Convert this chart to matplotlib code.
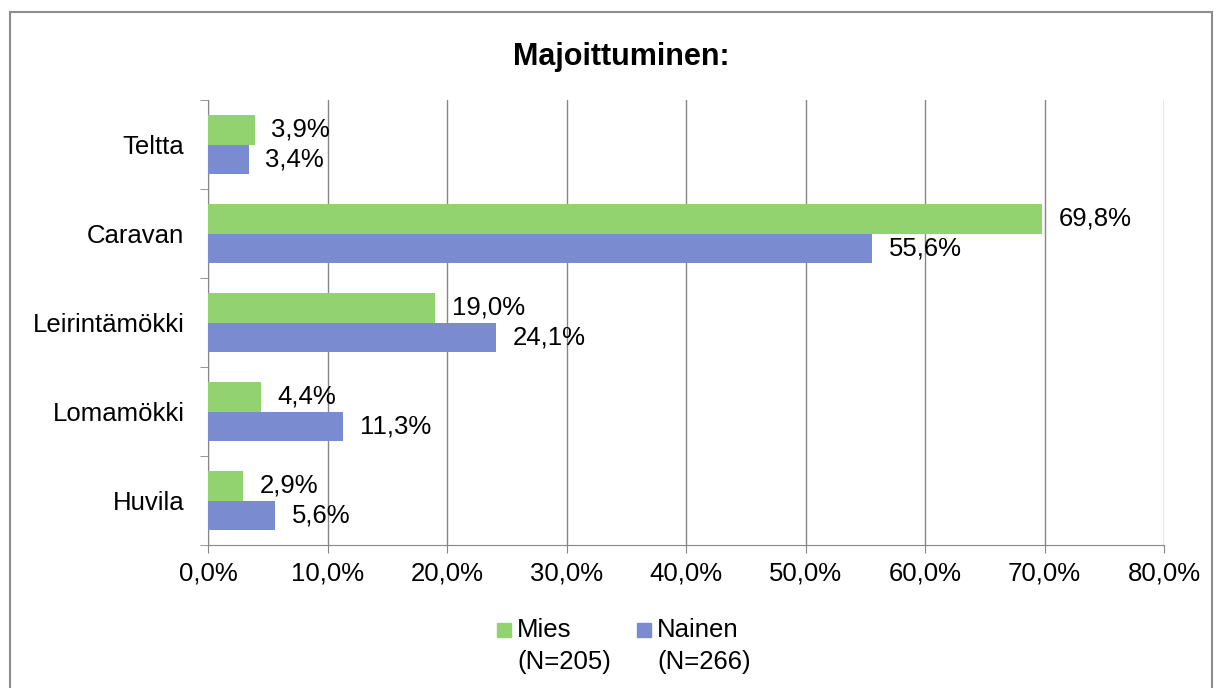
import numpy as np
import matplotlib.pyplot as plt
from matplotlib.patches import Rectangle

plt.rcParams['font.family'] = ['Liberation Sans', 'DejaVu Sans']

categories = ['Teltta', 'Caravan', 'Leirintämökki', 'Lomamökki', 'Huvila']
mies = [3.9, 69.8, 19.0, 4.4, 2.9]
nainen = [3.4, 55.6, 24.1, 11.3, 5.6]
series_names = ['Mies\n(N=205)', 'Nainen\n(N=266)']
green = '#92D36F'
blue = '#7B8BD0'
fs = 18.5
W, H = 1222, 688

fig = plt.figure(figsize=(12.22, 6.88), dpi=100)
fig.patches.append(Rectangle((10 / W, -0.01), 1202 / W, 1 - 12 / H + 0.01,
                             transform=fig.transFigure, fill=False,
                             edgecolor='#8c8c8c', linewidth=1.5))
ax = fig.add_axes([208 / W, 1 - 545 / H, 956 / W, 445 / H])

y = np.arange(len(categories))
h = 0.33
b1 = ax.barh(y - h / 2, mies, height=h, color=green, zorder=3)
b2 = ax.barh(y + h / 2, nainen, height=h, color=blue, zorder=3)

for bars, vals in [(b1, mies), (b2, nainen)]:
    for bar, v in zip(bars, vals):
        ax.text(v + 1.4, bar.get_y() + bar.get_height() / 2,
                f'{v:.1f}%'.replace('.', ','), va='center', ha='left', fontsize=fs)

ax.set_xlim(0, 80)
ax.set_ylim(len(categories) - 0.5, -0.5)
ax.set_xticks(np.arange(0, 81, 10))
ax.set_xticklabels([f'{t:.1f}%'.replace('.', ',') for t in np.arange(0, 81, 10)], fontsize=fs)
ax.set_yticks(y)
ax.set_yticklabels(categories, fontsize=fs)
ax.set_yticks(np.arange(-0.5, len(categories), 1), minor=True)
ax.tick_params(axis='y', which='major', length=0, pad=17)
ax.tick_params(axis='y', which='minor', length=6, color='#868686')
ax.tick_params(axis='x', length=6, color='#868686', pad=6)
ax.grid(axis='x', color='#868686', linewidth=1, zorder=0)
for s in ['top', 'right']:
    ax.spines[s].set_visible(False)
for s in ['left', 'bottom']:
    ax.spines[s].set_color('#868686')

fig.text(0.508, 1 - 57 / H, 'Majoittuminen:', ha='center', va='center',
         fontsize=22, fontweight='bold')

# legend: square aligned with first line of a two-line label
for x0, col, name in [(497, green, series_names[0]), (637, blue, series_names[1])]:
    fig.patches.append(Rectangle((x0 / W, 1 - 637 / H), 14 / W, 14 / H,
                                 transform=fig.transFigure, color=col))
    fig.text((x0 + 20) / W, 1 - 618 / H, name, ha='left', va='top',
             fontsize=fs, linespacing=1.4)

fig.savefig('out.png', dpi=100)
